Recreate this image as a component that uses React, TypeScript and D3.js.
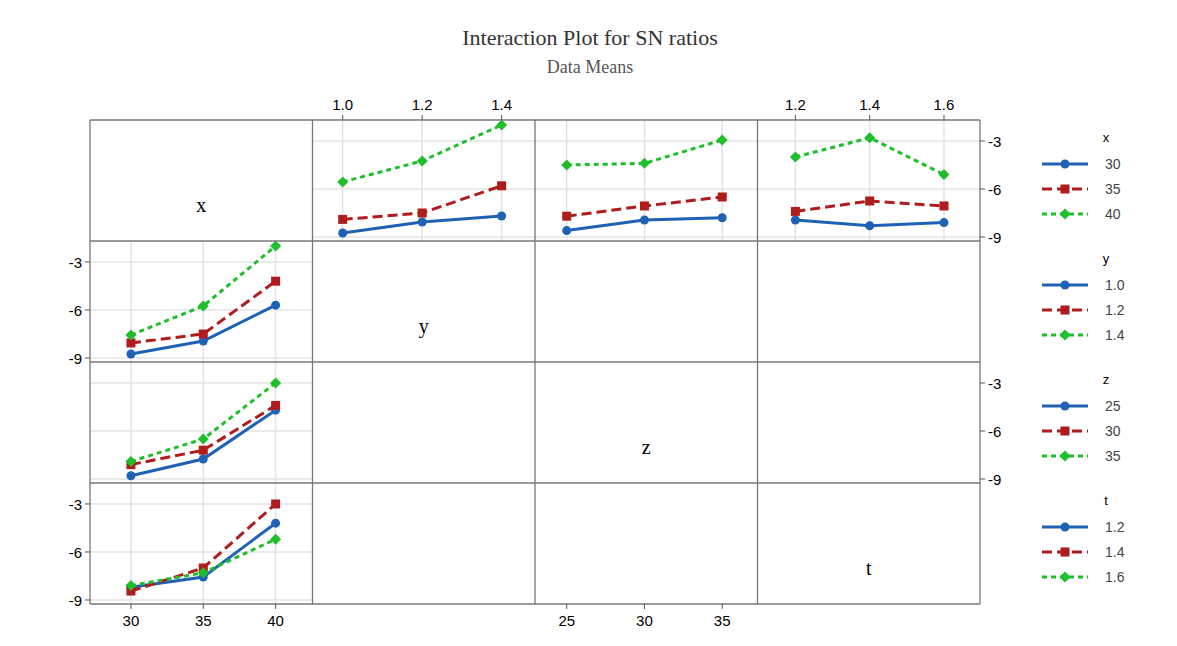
import * as d3 from 'd3';

const factors = ['x', 'y', 'z', 't'];
const levels: Record<string, number[]> = {
  x: [30, 35, 40],
  y: [1.0, 1.2, 1.4],
  z: [25, 30, 35],
  t: [1.2, 1.4, 1.6],
};
const levelLabels: Record<string, string[]> = {
  x: ['30', '35', '40'],
  y: ['1.0', '1.2', '1.4'],
  z: ['25', '30', '35'],
  t: ['1.2', '1.4', '1.6'],
};
const xDomains: Record<string, [number, number]> = {
  x: [27.17, 42.55],
  y: [0.924, 1.484],
  z: [22.96, 37.27],
  t: [1.098, 1.697],
};
// panel data: key = row factor (legend) + col factor (x-axis); series per row-factor level
const panels: Record<string, number[][]> = {
  xy: [[-8.75, -8.06, -7.69], [-7.9, -7.5, -5.8], [-5.56, -4.25, -2.0]],
  xz: [[-8.6, -7.94, -7.8], [-7.7, -7.06, -6.5], [-4.5, -4.4, -2.94]],
  xt: [[-7.94, -8.3, -8.1], [-7.4, -6.75, -7.06], [-4.0, -2.8, -5.1]],
  yx: [[-8.75, -7.94, -5.7], [-8.06, -7.5, -4.2], [-7.56, -5.75, -2.0]],
  zx: [[-8.8, -7.75, -4.7], [-8.1, -7.2, -4.4], [-7.9, -6.5, -3.0]],
  tx: [[-8.2, -7.56, -4.2], [-8.44, -7.0, -3.0], [-8.1, -7.3, -5.2]],
};
const yTicks = [-9, -6, -3];
const colors = ['#1f62b5', '#b01c1c', '#1fbf2b'];
const dashes = ['none', '10,5', '5,4'];

const left = 90, top = 120, cw = 222.5, ch = 121;
const y0 = d3.scaleLinear().domain([-9.25, -1.69]).range([ch, 0]);
const sans = 'Liberation Sans, Arial, sans-serif';
const serif = 'Liberation Serif, Times New Roman, serif';

function Marker({ i, x, y }: { i: number; x: number; y: number }) {
  if (i === 0) return <circle cx={x} cy={y} r={4.5} fill={colors[0]} />;
  if (i === 1) return <rect x={x - 4.5} y={y - 4.5} width={9} height={9} fill={colors[1]} />;
  return <path d={`M${x},${y - 5.5}L${x + 5.5},${y}L${x},${y + 5.5}L${x - 5.5},${y}Z`} fill={colors[2]} />;
}

export default function App() {
  const cells: any[] = [];
  factors.forEach((rf, r) => {
    factors.forEach((cf, c) => {
      const ox = left + c * cw, oy = top + r * ch;
      if (r === c) {
        cells.push(<text key={rf + cf} x={ox + cw / 2} y={oy + ch / 2 + 31} textAnchor="middle" fontFamily={serif} fontSize={20}>{rf}</text>);
        return;
      }
      const data = panels[rf + cf];
      if (!data) return;
      const x = d3.scaleLinear().domain(xDomains[cf]).range([0, cw]);
      const line = d3.line<number>().x((_, i) => x(levels[cf][i])).y(v => y0(v));
      cells.push(
        <g key={rf + cf} transform={`translate(${ox},${oy})`}>
          {levels[cf].map(l => <line key={'v' + l} x1={x(l)} x2={x(l)} y1={0} y2={ch} stroke="#e3e3e3" strokeWidth={1.5} />)}
          {yTicks.map(t => <line key={'h' + t} x1={0} x2={cw} y1={y0(t)} y2={y0(t)} stroke="#e3e3e3" strokeWidth={1.5} />)}
          {data.map((s, i) => (
            <g key={i}>
              <path d={line(s) || ''} fill="none" stroke={colors[i]} strokeWidth={3} strokeDasharray={dashes[i]} />
              {s.map((v, j) => <Marker key={j} i={i} x={x(levels[cf][j])} y={y0(v)} />)}
            </g>
          ))}
        </g>
      );
    });
  });

  const axes: any[] = [];
  // x axes: top for cols 1,3; bottom for cols 0,2
  factors.forEach((cf, c) => {
    const x = d3.scaleLinear().domain(xDomains[cf]).range([0, cw]);
    const isTop = c % 2 === 1;
    const ay = isTop ? top : top + 4 * ch;
    levels[cf].forEach((l, i) => {
      const px = left + c * cw + x(l);
      axes.push(
        <g key={'xa' + c + i}>
          <line x1={px} x2={px} y1={ay} y2={isTop ? ay - 5 : ay + 5} stroke="#555" />
          <text x={px} y={isTop ? ay - 10 : ay + 22} textAnchor="middle" fontFamily={sans} fontSize={15}>{levelLabels[cf][i]}</text>
        </g>
      );
    });
  });
  // y axes: left for rows 1,3; right for rows 0,2
  factors.forEach((_, r) => {
    const isLeft = r % 2 === 1;
    const ax = isLeft ? left : left + 4 * cw;
    yTicks.forEach(t => {
      const py = top + r * ch + y0(t);
      axes.push(
        <g key={'ya' + r + t}>
          <line x1={ax} x2={isLeft ? ax - 5 : ax + 5} y1={py} y2={py} stroke="#555" />
          <text x={isLeft ? ax - 8 : ax + 8} y={py + 6} textAnchor={isLeft ? 'end' : 'start'} fontFamily={sans} fontSize={15}>{t}</text>
        </g>
      );
    });
  });

  const legends = factors.map((f, r) => {
    const ly = top + r * ch + 22;
    return (
      <g key={'lg' + f} transform={`translate(1040,${ly})`}>
        <text x={66} y={0} textAnchor="middle" fontFamily={sans} fontSize={13}>{f}</text>
        {levelLabels[f].map((lab, i) => (
          <g key={i} transform={`translate(0,${(i + 1) * 25 - 3})`}>
            <line x1={2} x2={48} y1={0} y2={0} stroke={colors[i]} strokeWidth={3} strokeDasharray={dashes[i]} />
            <Marker i={i} x={25} y={0} />
            <text x={65} y={5} fontFamily={sans} fontSize={14} fill="#444">{lab}</text>
          </g>
        ))}
      </g>
    );
  });

  const borders: any[] = [];
  for (let k = 0; k <= 4; k++) {
    borders.push(<line key={'bv' + k} x1={left + k * cw} x2={left + k * cw} y1={top} y2={top + 4 * ch} stroke="#777" strokeWidth={1.3} />);
    borders.push(<line key={'bh' + k} x1={left} x2={left + 4 * cw} y1={top + k * ch} y2={top + k * ch} stroke="#777" strokeWidth={1.3} />);
  }

  return (
    <svg width={1177} height={646} style={{ position: 'absolute', left: 0, top: 0, background: '#fff' }}>
      <rect width={1177} height={646} fill="#fff" />
      <text x={590} y={45} textAnchor="middle" fontFamily={serif} fontSize={22} fill="#333">Interaction Plot for SN ratios</text>
      <text x={590} y={73} textAnchor="middle" fontFamily={serif} fontSize={18} fill="#555">Data Means</text>
      {cells}
      {borders}
      {axes}
      {legends}
    </svg>
  );
}
